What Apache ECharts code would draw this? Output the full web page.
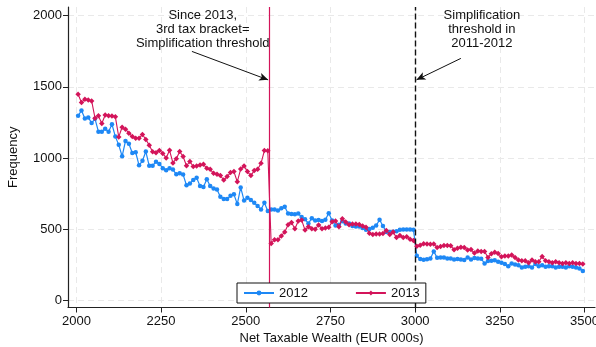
<!DOCTYPE html>
<html>
<head>
<meta charset="utf-8">
<script src="https://cdn.jsdelivr.net/npm/echarts@6/dist/echarts.min.js"></script>
<style>
  html, body { margin: 0; padding: 0; background: #ffffff; }
  #chart { width: 596px; height: 347px; }
</style>
</head>
<body>
<div id="chart"></div>
<script>
// Number of declarations per EUR 10k bin of net taxable wealth (EUR 000s)
const freq2012 = [
  1297, 1333, 1277, 1285, 1246, 1275, 1185, 1185, 1206, 1184,
  1237, 1150, 1092, 1012, 1120, 1100, 1035, 1040, 948, 980,
  1045, 945, 946, 974, 958, 928, 914, 927, 918, 885,
  892, 883, 808, 820, 845, 860, 803, 796, 850, 803,
  786, 779, 728, 711, 711, 735, 744, 676, 793, 700,
  721, 704, 685, 662, 638, 685, 627, 637, 637, 630,
  647, 657, 609, 606, 604, 609, 584, 569, 540, 576,
  560, 563, 557, 565, 612, 560, 525, 530, 555, 540,
  540, 522, 518, 518, 507, 496, 500, 510, 525, 565,
  522, 480, 480, 481, 485, 495, 497, 497, 497, 495,
  312, 289, 284, 287, 293, 343, 299, 300, 300, 293,
  293, 286, 289, 286, 282, 300, 286, 297, 293, 292,
  258, 276, 277, 280, 270, 263, 254, 239, 258, 251,
  246, 230, 235, 239, 230, 254, 239, 246, 235, 239,
  239, 230, 235, 235, 230, 239, 235, 230, 223, 206
];
const freq2013 = [
  1448, 1390, 1413, 1408, 1401, 1280, 1296, 1242, 1302, 1297,
  1295, 1289, 1148, 1216, 1202, 1174, 1150, 1138, 1138, 1165,
  1130, 1090, 1043, 1036, 1053, 1032, 1000, 1054, 965, 995,
  1045, 1010, 945, 975, 940, 944, 951, 955, 927, 920,
  892, 885, 876, 845, 869, 897, 904, 833, 922, 944,
  904, 876, 911, 920, 962, 1052, 1050, 399, 425, 425,
  452, 480, 530, 546, 502, 557, 563, 493, 516, 502,
  499, 528, 502, 507, 512, 552, 557, 516, 572, 550,
  530, 535, 535, 533, 522, 512, 470, 462, 465, 465,
  469, 490, 462, 480, 440, 455, 440, 446, 428, 420,
  380, 386, 396, 395, 393, 395, 370, 378, 385, 384,
  382, 355, 365, 372, 370, 352, 356, 331, 345, 343,
  343, 300, 327, 337, 328, 305, 310, 310, 317, 300,
  282, 277, 277, 263, 282, 270, 270, 308, 277, 270,
  263, 270, 263, 258, 263, 258, 263, 258, 258, 254
];

// Bins are EUR 10k wide starting at 2000; points sit at bin centres
const binStart = 2000;
const binWidth = 10;
const binCentres = freq2012.map((_, i) => binStart + binWidth * (i + 0.5));

const wealthTicks = [2000, 2250, 2500, 2750, 3000, 3250, 3500];
const freqTicks = [0, 500, 1000, 1500, 2000];

const bracket2013 = 2570;     // 3rd tax bracket from 2013
const threshold2012 = 3000;   // simplification threshold 2011-2012

const seriesNames = ['2012', '2013'];
const noteLeft = ['Since 2013,', '3rd tax bracket=', 'Simplification threshold'];
const noteRight = ['Simplification', 'threshold in', '2011-2012'];

const BLUE = '#1e88f5';
const RED = '#d3145a';
const INK = '#111111';
const FONT = '"Liberation Sans", Arial, Helvetica, sans-serif';

const pairs = (ys) => ys.map((y, i) => [binCentres[i], y]);
const plain = (v) => String(v);

const chart = echarts.init(document.getElementById('chart'), null, { renderer: 'canvas' });

const dashedGrid = { show: true, lineStyle: { color: '#e9e9e9', width: 1, type: [6, 4] } };

// A vertical reference line drawn as its own empty series
const vLine = (name, x, color, width, type) => ({
  name,
  type: 'line',
  data: [],
  silent: true,
  z: 5,
  color,
  markLine: {
    silent: true,
    symbol: ['none', 'none'],
    label: { show: false },
    lineStyle: { color, width, type, opacity: 1 },
    emphasis: { disabled: true },
    data: [{ xAxis: x }]
  }
});

chart.setOption({
  animation: false,
  backgroundColor: '#ffffff',
  textStyle: { fontFamily: FONT },
  grid: { left: 68, right: 1, top: 7, bottom: 39.5, outerBoundsMode: 'none', containLabel: false },
  xAxis: {
    type: 'value',
    min: 1975.2,
    max: 3531,
    name: 'Net Taxable Wealth (EUR 000s)',
    nameLocation: 'middle',
    nameGap: 24,
    nameTextStyle: { color: INK, fontSize: 13, fontFamily: FONT },
    axisLine: { show: true, onZero: false, lineStyle: { color: '#222', width: 1.2 } },
    axisTick: { show: true, length: 5, lineStyle: { color: '#222' }, customValues: wealthTicks },
    axisLabel: { color: INK, fontSize: 13, margin: 7, customValues: wealthTicks, formatter: plain, fontFamily: FONT },
    splitLine: dashedGrid
  },
  yAxis: {
    type: 'value',
    min: -51.4,
    max: 2061.3,
    name: 'Frequency',
    nameLocation: 'middle',
    nameGap: 48,
    nameTextStyle: { color: INK, fontSize: 13, fontFamily: FONT },
    axisLine: { show: true, onZero: false, lineStyle: { color: '#222', width: 1.2 } },
    axisTick: { show: true, length: 5, lineStyle: { color: '#222' }, customValues: freqTicks },
    axisLabel: { color: INK, fontSize: 13, margin: 6, customValues: freqTicks, formatter: plain, fontFamily: FONT },
    splitLine: dashedGrid
  },
  legend: {
    data: seriesNames,
    left: 237,
    top: 283,
    z: 20,
    padding: [3.5, 6],
    itemWidth: 30,
    itemHeight: 6,
    itemGap: 47,
    backgroundColor: '#ffffff',
    borderColor: INK,
    borderWidth: 1,
    borderRadius: 0,
    textStyle: { color: INK, fontSize: 13, fontFamily: FONT }
  },
  series: [
    {
      name: seriesNames[0],
      type: 'line',
      data: pairs(freq2012),
      symbol: 'circle',
      symbolSize: 4.5,
      showSymbol: true,
      lineStyle: { color: BLUE, width: 1.2 },
      itemStyle: { color: BLUE },
      z: 3
    },
    {
      name: seriesNames[1],
      type: 'line',
      data: pairs(freq2013),
      symbol: 'diamond',
      symbolSize: 5.5,
      showSymbol: true,
      lineStyle: { color: RED, width: 1.1 },
      itemStyle: { color: RED },
      z: 4
    },
    vLine('bracket 2013', bracket2013, RED, 1.2, 'solid'),
    vLine('threshold 2011-2012', threshold2012, INK, 1.4, [6, 3]),
    {
      name: 'arrows',
      type: 'line',
      data: [],
      silent: true,
      z: 6,
      markLine: {
        silent: true,
        symbol: ['none', 'arrow'],
        symbolSize: [6, 9],
        label: { show: false },
        lineStyle: { color: INK, width: 1, type: 'solid' },
        itemStyle: { color: INK },
        data: [
          [{ coord: [2341, 1749] }, { coord: [2566, 1549] }],
          [{ coord: [3135, 1700] }, { coord: [3004, 1549] }]
        ]
      }
    }
  ]
});

// Annotation text blocks anchored in data coordinates
function addNotes() {
  const p1 = chart.convertToPixel({ gridIndex: 0 }, [2373, 2049]);
  const p2 = chart.convertToPixel({ gridIndex: 0 }, [3197, 2049]);
  const mk = (p, lines) => ({
    type: 'text',
    x: p[0],
    y: p[1],
    silent: true,
    z: 10,
    style: {
      text: lines.join('\n'),
      fill: INK,
      font: '13px ' + FONT,
      align: 'center',
      verticalAlign: 'top',
      lineHeight: 13.7
    }
  });
  chart.setOption({ graphic: [mk(p1, noteLeft), mk(p2, noteRight)] });
}
addNotes();
</script>
</body>
</html>
